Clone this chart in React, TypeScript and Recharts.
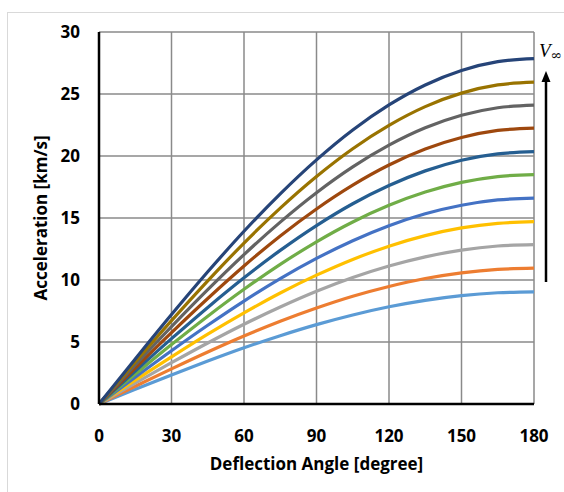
import React from "react";
import { LineChart, Line, XAxis, YAxis, CartesianGrid } from "recharts";

// deflection angle [degree]
const angles = [0, 15, 30, 45, 60, 75, 90, 105, 120, 135, 150, 165, 180];

// acceleration [km/s], one array per V-infinity curve (lowest to highest)
const v1 = [0, 1.18, 2.34, 3.46, 4.53, 5.51, 6.4, 7.18, 7.84, 8.36, 8.74, 8.97, 9.05];
const v2 = [0, 1.43, 2.83, 4.19, 5.48, 6.67, 7.74, 8.69, 9.48, 10.12, 10.58, 10.86, 10.95];
const v3 = [0, 1.68, 3.33, 4.92, 6.43, 7.82, 9.09, 10.2, 11.13, 11.87, 12.41, 12.74, 12.85];
const v4 = [0, 1.92, 3.8, 5.63, 7.35, 8.95, 10.39, 11.66, 12.73, 13.58, 14.2, 14.57, 14.7];
const v5 = [0, 2.17, 4.3, 6.35, 8.3, 10.11, 11.74, 13.17, 14.38, 15.34, 16.03, 16.46, 16.6];
const v6 = [0, 2.41, 4.79, 7.08, 9.25, 11.26, 13.08, 14.68, 16.02, 17.09, 17.87, 18.34, 18.5];
const v7 = [0, 2.66, 5.27, 7.79, 10.18, 12.39, 14.39, 16.15, 17.62, 18.8, 19.66, 20.17, 20.35];
const v8 = [0, 2.9, 5.76, 8.51, 11.13, 13.55, 15.73, 17.65, 19.27, 20.56, 21.49, 22.06, 22.25];
const v9 = [0, 3.15, 6.24, 9.22, 12.05, 14.67, 17.04, 19.12, 20.87, 22.27, 23.28, 23.89, 24.1];
const v10 = [0, 3.39, 6.72, 9.93, 12.98, 15.8, 18.35, 20.59, 22.47, 23.98, 25.07, 25.73, 25.95];
const v11 = [0, 3.63, 7.21, 10.66, 13.93, 16.95, 19.69, 22.1, 24.12, 25.73, 26.9, 27.61, 27.85];

const series = [v1, v2, v3, v4, v5, v6, v7, v8, v9, v10, v11];
const colors = [
  "#5B9BD5",
  "#ED7D31",
  "#A5A5A5",
  "#FFC000",
  "#4472C4",
  "#70AD47",
  "#255E91",
  "#9E480E",
  "#636363",
  "#997300",
  "#264478",
];

const xTicks = [0, 30, 60, 90, 120, 150, 180];
const yTicks = [0, 5, 10, 15, 20, 25, 30];

const data = angles.map((a, i) => {
  const row: Record<string, number> = { angle: a };
  series.forEach((s, k) => {
    row[`s${k}`] = s[i];
  });
  return row;
});

const font = "'Open Sans', sans-serif";

export default function App() {
  return (
    <div
      style={{
        position: "fixed",
        left: 0,
        top: 0,
        width: 564,
        height: 492,
        overflow: "hidden",
        background: "#fff",
      }}
    >
      <div
        style={{
          position: "absolute",
          left: 7,
          top: 12,
          width: 600,
          height: 600,
          border: "1px solid #d9d9d9",
        }}
      />
      <div style={{ position: "absolute", left: 0, top: 0 }}>
        <LineChart
          width={564}
          height={492}
          data={data}
          margin={{ top: 32, right: 30, left: 39, bottom: 58 }}
        >
          <CartesianGrid stroke="#8a8a8a" strokeWidth={1.5} />
          <XAxis
            dataKey="angle"
            type="number"
            domain={[0, 180]}
            ticks={xTicks}
            height={30}
            tickLine={false}
            tickSize={0}
            tickMargin={26}
            axisLine={{ stroke: "#000", strokeWidth: 2.5 }}
            tick={{ fill: "#000", fontSize: 17, fontWeight: 700, fontFamily: font }}
            label={{
              value: "Deflection Angle [degree]",
              position: "insideBottom",
              offset: -36,
              fill: "#000",
              fontSize: 17,
              fontWeight: 700,
              fontFamily: font,
            }}
          />
          <YAxis
            type="number"
            domain={[0, 30]}
            ticks={yTicks}
            width={60}
            tickLine={false}
            tickSize={0}
            tickMargin={19}
            axisLine={{ stroke: "#000", strokeWidth: 2.5 }}
            tick={{ fill: "#000", fontSize: 17, fontWeight: 700, fontFamily: font }}
            label={{
              value: "Acceleration [km/s]",
              angle: -90,
              position: "insideLeft",
              offset: 2,
              fill: "#000",
              fontSize: 17,
              fontWeight: 700,
              fontFamily: font,
              style: { textAnchor: "middle" },
            }}
          />
          {series.map((_, k) => (
            <Line
              key={k}
              type="monotone"
              dataKey={`s${k}`}
              stroke={colors[k]}
              strokeWidth={3.2}
              dot={false}
              isAnimationActive={false}
            />
          ))}
        </LineChart>
      </div>
      <svg
        width={564}
        height={492}
        style={{ position: "absolute", left: 0, top: 0, pointerEvents: "none" }}
      >
        <line x1={546} y1={80} x2={546} y2={282} stroke="#000" strokeWidth={2.5} />
        <polygon points="546,71 541.5,82 550.5,82" fill="#000" />
        <text
          x={539}
          y={57}
          fontFamily="'Liberation Serif', serif"
          fontStyle="italic"
          fontSize={19}
          fill="#000"
        >
          V
        </text>
        <text x={550.5} y={60} fontFamily="'DejaVu Serif', serif" fontSize={14} fill="#000">
          ∞
        </text>
      </svg>
    </div>
  );
}
